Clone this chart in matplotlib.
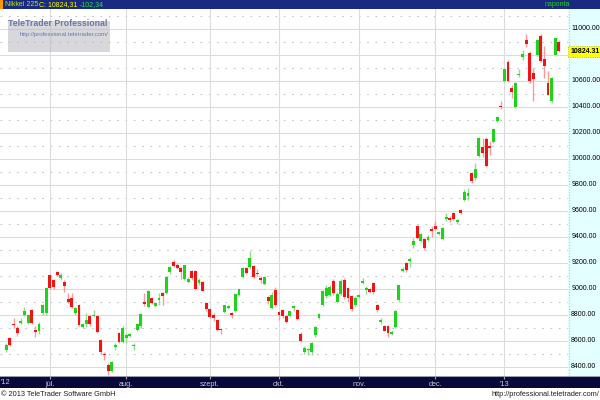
import numpy as np
import matplotlib
matplotlib.use("Agg")
import matplotlib.pyplot as plt
from matplotlib.patches import Rectangle

# Nikkei 225 daily candles, 2012-06-14 .. 2013-01-28
opens = [8526, 8620, 8730, 8696, 8735, 8796, 8735, 8835, 8681, 8673, 8812, 8812,
         9104, 9065, 9127, 9081, 9050, 8919, 8927, 8812, 8873, 8704, 8727, 8788,
         8788, 8788, 8604, 8496, 8412, 8366, 8550, 8658, 8589,
         8619, 8635, 8557, 8681, 8711, 8888, 8858, 8927, 8865, 8912, 8965, 8965,
         9127, 9204, 9181, 9158, 9073, 9050, 9134, 9134, 9042, 9050, 8888,
         8842, 8796, 8758, 8692, 8819, 8850, 8812, 8827, 8950, 9088, 9158, 9165,
         9173, 9119, 9080, 9035, 8937, 8852, 8988,
         8821, 8835, 8787, 8787, 8850, 8835, 8650, 8511, 8525, 8510, 8642, 8773,
         8873, 8942, 8950, 9060, 8900, 8960, 9065, 9004, 8942, 8870,
         8937, 9045, 8985, 8996, 9042, 8873, 8742, 8712, 8712, 8650, 8704, 8912,
         9135, 9196, 9215, 9334, 9481, 9365, 9381, 9373, 9460,
         9481, 9419, 9381, 9535, 9542, 9581, 9512, 9604, 9681, 9712, 9889, 9850,
         10020, 10088, 10150, 10095, 10130, 10290, 10405,
         10600, 10740, 10545, 10400, 10640, 10780, 10915, 10815, 10661, 10800,
         10946, 10769, 10577, 10446, 10800, 10900]
highs = [8580, 8630, 8770, 8711, 8770, 8857, 8805, 8845, 8711, 8740, 8880, 9010,
         9115, 9075, 9136, 9120, 9065, 8965, 8965, 8860, 8880, 8735, 8812, 8795,
         8835, 8800, 8612, 8512, 8427, 8440, 8580, 8668, 8710,
         8656, 8660, 8580, 8735, 8815, 8965, 8985, 8935, 8895, 8965, 8975, 9095,
         9170, 9219, 9196, 9168, 9180, 9085, 9140, 9140, 9080, 9060, 8895,
         8850, 8812, 8765, 8700, 8875, 8875, 8820, 8965, 9000, 9165, 9165, 9288,
         9180, 9150, 9100, 9095, 8945, 8970, 9014,
         8830, 8845, 8795, 8830, 8875, 8845, 8665, 8560, 8545, 8585, 8710, 8815,
         8990, 9030, 9030, 9075, 8970, 9070, 9080, 9010, 8950, 8940,
         8960, 9080, 9020, 9005, 9050, 8880, 8775, 8720, 8720, 8680, 8835, 9030,
         9165, 9205, 9245, 9388, 9490, 9430, 9390, 9410, 9481,
         9521, 9440, 9475, 9581, 9555, 9590, 9535, 9615, 9766, 9773, 9900, 9965,
         10165, 10158, 10165, 10135, 10235, 10330, 10440,
         10700, 10760, 10569, 10590, 10690, 10837, 10954, 10830, 10698, 10915,
         10960, 10864, 10672, 10625, 10930, 10915]
lows = [8511, 8555, 8700, 8635, 8725, 8790, 8725, 8725, 8627, 8650, 8800, 8800,
        8995, 9000, 9096, 9065, 8973, 8888, 8850, 8800, 8710, 8695, 8704, 8715,
        8780, 8660, 8500, 8450, 8335, 8360, 8530, 8581, 8580,
        8581, 8625, 8530, 8670, 8700, 8865, 8850, 8880, 8855, 8873, 8873, 8955,
        9115, 9168, 9150, 9073, 9065, 9040, 9065, 8990, 9030, 8980, 8830,
        8775, 8750, 8675, 8650, 8810, 8840, 8775, 8820, 8940, 9080, 9115, 9150,
        9080, 9095, 9040, 9025, 8880, 8840, 8860,
        8758, 8775, 8735, 8780, 8830, 8760, 8585, 8500, 8490, 8488, 8630, 8765,
        8865, 8930, 8940, 8950, 8890, 8950, 8920, 8900, 8830, 8860,
        8925, 9035, 8960, 8965, 8960, 8820, 8730, 8670, 8627, 8640, 8695, 8900,
        9125, 9130, 9168, 9311, 9380, 9355, 9300, 9365, 9396,
        9450, 9410, 9370, 9520, 9515, 9525, 9500, 9575, 9670, 9681, 9815, 9835,
        10010, 10012, 9935, 10030, 10120, 10280, 10383,
        10590, 10590, 10469, 10390, 10629, 10756, 10854, 10580, 10441, 10790,
        10740, 10621, 10485, 10430, 10795, 10823]
closes = [8569, 8569, 8718, 8655, 8752, 8824, 8798, 8734, 8663, 8730, 8874, 9006,
          9003, 9015, 9104, 9104, 9020, 8896, 8857, 8851, 8720, 8724, 8755, 8726,
          8797, 8669, 8508, 8488, 8365, 8435, 8566, 8590, 8695,
          8642, 8650, 8565, 8726, 8803, 8881, 8978, 8891, 8885, 8929, 8940, 9092,
          9162, 9171, 9156, 9125, 9178, 9070, 9080, 9000, 9068, 8983, 8839,
          8783, 8775, 8679, 8680, 8871, 8869, 8800, 8959, 8995, 9159, 9123, 9232,
          9086, 9110, 9069, 9091, 8906, 8949, 8870,
          8796, 8786, 8746, 8824, 8863, 8769, 8596, 8546, 8534, 8577, 8701, 8806,
          8982, 9002, 9010, 8964, 8954, 9055, 8933, 8929, 8841, 8928,
          8946, 9051, 9005, 8975, 8970, 8837, 8757, 8676, 8661, 8664, 8829, 9024,
          9153, 9142, 9222, 9366, 9388, 9423, 9308, 9400, 9446,
          9458, 9432, 9468, 9545, 9527, 9533, 9525, 9581, 9742, 9737, 9828, 9923,
          10160, 10039, 9940, 10080, 10230, 10322, 10395,
          10688, 10599, 10508, 10578, 10652, 10801, 10879, 10600, 10609, 10913,
          10747, 10709, 10486, 10620, 10926, 10824]

month_starts = [12, 33, 56, 75, 97, 118, 137]
month_labels = ["júl.", "aug.", "szept.", "okt.", "nov.", "dec.", "'13"]
price_levels = np.arange(8400, 11001, 200)
last_close = 10824.31
last_change = -102.34

W, H = 600, 400


def px_box(x0, y0, x1, y1):
    return [x0 / W, 1 - y1 / H, (x1 - x0) / W, (y1 - y0) / H]


plt.rcParams["font.family"] = ["Liberation Sans", "DejaVu Sans"]

fig = plt.figure(figsize=(6, 4), dpi=100)
fig.patch.set_facecolor("white")

ylim = (8327, 11150)
xlim = (-1.73, 154.5)

# bottom date bar (drawn first so tick labels sit on top)
bar = fig.add_axes(px_box(0, 376, 600, 388))
bar.set_facecolor("#08083a")
bar.set_xticks([])
bar.set_yticks([])
for s in bar.spines.values():
    s.set_visible(False)
bar.axhline(1, color="#9a9aa8", lw=1.5)

# right price panel
panel = fig.add_axes(px_box(568, 9, 600, 376))
panel.set_facecolor("#e4ffff")
panel.set_xlim(0, 1)
panel.set_ylim(*ylim)
panel.set_xticks([])
panel.set_yticks([])
for s in panel.spines.values():
    s.set_visible(False)
panel.axvline(0.02, color="#c8c890", lw=0.8, ls=(0, (1, 1.5)))
for lvl in price_levels:
    panel.text(0.1, lvl, f"{lvl:.2f}", fontsize=5.0, va="center", ha="left", color="black")
panel.text(0.07, last_close, f"{last_close:.2f}", fontsize=5.0, va="center", ha="left",
           color="black", weight="bold", zorder=5,
           bbox=dict(boxstyle="square,pad=0.3", fc="#ffff00", ec="#b0b000", lw=0.6, ls=":"))

# main chart
ax = fig.add_axes(px_box(0, 9, 568, 376))
ax.set_facecolor("white")
ax.set_xlim(*xlim)
ax.set_ylim(*ylim)
for s in ax.spines.values():
    s.set_visible(False)

ax.set_yticks(price_levels)
ax.set_yticklabels([])
ax.tick_params(axis="y", length=0)
ax.set_xticks(month_starts)
ax.set_xticklabels(month_labels, fontsize=5.3, color="#c8c8d0")
ax.tick_params(axis="x", length=2, pad=1.5, color="#a0a0a8")
ax.grid(True, color="#dcdcdc", lw=0.8)
ax.set_axisbelow(True)
for lvl in list(price_levels[:-1] + 100) + [11100]:
    ax.axhline(lvl, color="#c4c4c4", lw=0.8, ls=(0, (1.5, 6)), zorder=0)
fig.text(1 / W, 1 - 382 / H, "'12", fontsize=5.3, color="#c8c8d0", va="center", ha="left")

o = np.array(opens, float)
h = np.array(highs, float)
l = np.array(lows, float)
c = np.array(closes, float)
idx = np.arange(len(c))
up = c >= o
ax.vlines(idx[up], l[up], h[up], color="#8ee08e", lw=1.0, zorder=2)
ax.vlines(idx[~up], l[~up], h[~up], color="#ff9a9a", lw=1.0, zorder=2)
body_bottom = np.minimum(o, c)
body_h = np.maximum(np.abs(c - o), 12)
colors = np.where(up, "#1ed21e", "#f01414")
ax.bar(idx, body_h, bottom=body_bottom, width=0.8, color=colors, lw=0, zorder=3)

# watermark
ax.add_patch(Rectangle((8 / 568, 1 - 43 / 367), 102 / 568, 31 / 367, transform=ax.transAxes,
                       fc="#b8b8c0", ec="none", alpha=0.55, zorder=4))
fig.text(58 / W, 1 - 24 / H, "TeleTrader Professional", fontsize=6.3, color="#6878a8",
         weight="bold", ha="center", va="center", zorder=10)
fig.text(64 / W, 1 - 34.5 / H, "http://professional.teletrader.com/", fontsize=4.3,
         color="#6878a8", ha="center", va="center", zorder=10)

# header bar
fig.patches.append(Rectangle((0, 1 - 9 / H), 1, 9 / H, transform=fig.transFigure,
                             fc="#1a2a80", ec="none", zorder=0))
fig.patches.append(Rectangle((0, 1 - 9 / H), 3 / W, 9 / H, transform=fig.transFigure,
                             fc="#ff9900", ec="none", zorder=1))
fig.text(5 / W, 1 - 4.8 / H, "Nikkei 225", fontsize=5, color="#b8f000", va="center")
fig.text(39 / W, 1 - 4.8 / H, "C: " + f"{last_close:.2f}".replace(".", ","), fontsize=5,
         color="#ffff00", va="center")
fig.text(80 / W, 1 - 4.8 / H, f"{last_change:.2f}".replace(".", ","), fontsize=5,
         color="#30e030", va="center")
fig.text(545 / W, 1 - 4.8 / H, "naponta", fontsize=5, color="#20d020", va="center")

# footer
fig.text(1 / W, 1 - 395 / H, "© 2013 TeleTrader Software GmbH", fontsize=5.3,
         color="#202020", va="center", ha="left")
fig.text(599 / W, 1 - 395 / H, "http://professional.teletrader.com/", fontsize=5.3,
         color="#202020", va="center", ha="right")

fig.savefig("out.png", dpi=100)
